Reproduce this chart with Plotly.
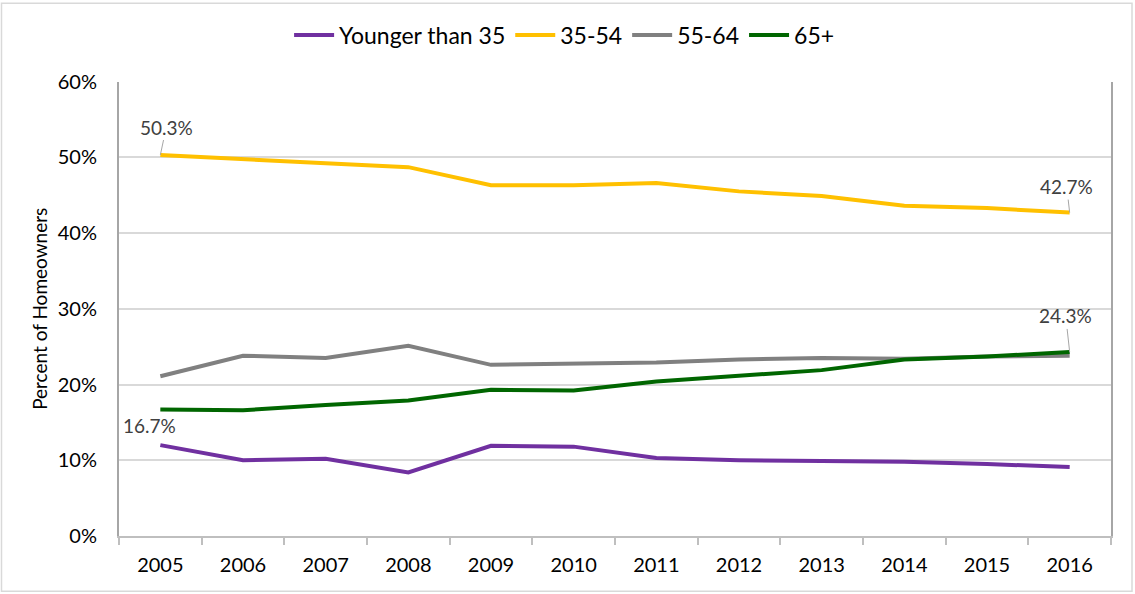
import plotly.graph_objects as go

years = ["2005", "2006", "2007", "2008", "2009", "2010", "2011", "2012", "2013", "2014", "2015", "2016"]
younger_35 = [12.0, 10.0, 10.2, 8.4, 11.9, 11.8, 10.3, 10.0, 9.9, 9.8, 9.5, 9.1]
age_35_54 = [50.3, 49.7, 49.2, 48.7, 46.3, 46.3, 46.6, 45.5, 44.9, 43.6, 43.3, 42.7]
age_55_64 = [21.1, 23.8, 23.5, 25.1, 22.6, 22.8, 22.9, 23.3, 23.5, 23.4, 23.7, 23.8]
age_65_plus = [16.7, 16.6, 17.3, 17.9, 19.3, 19.2, 20.4, 21.1, 21.9, 23.3, 23.7, 24.3]

series = [
    ("Younger than 35", younger_35, "#7030A0"),
    ("35-54", age_35_54, "#FFC000"),
    ("55-64", age_55_64, "#808080"),
    ("65+", age_65_plus, "#006600"),
]

FONT = "Lato"
fig = go.Figure()
for name, vals, color in series:
    fig.add_trace(go.Scatter(
        x=years, y=vals, name=name, mode="lines",
        line=dict(color=color, width=4),
    ))

first, last = 0, len(years) - 1
lab_font = dict(family=FONT, size=19, color="#404040")
ann_style = dict(font=lab_font, arrowhead=0, arrowwidth=1, arrowcolor="#A6A6A6",
                 showarrow=True, axref="pixel", ayref="pixel")
annotations = [
    dict(x=first, y=age_35_54[first], text=f"{age_35_54[first]:.1f}%", ax=6, ay=-28, **ann_style),
    dict(x=last, y=age_35_54[last], text=f"{age_35_54[last]:.1f}%", ax=-3, ay=-26, **ann_style),
    dict(x=last, y=age_65_plus[last], text=f"{age_65_plus[last]:.1f}%", ax=-4, ay=-36, **ann_style),
    dict(x=first, y=age_65_plus[first], text=f"{age_65_plus[first]:.1f}%", showarrow=False,
         xshift=-11, yshift=-16, font=lab_font),
]

L, R, T, B = 119, 24, 80, 58
PW = 1135 - L - R
PH = 594 - T - B

fig.update_layout(
    width=1135, height=594,
    margin=dict(l=L, r=R, t=T, b=B),
    paper_bgcolor="white", plot_bgcolor="white",
    font=dict(family=FONT, size=20, color="#000000"),
    showlegend=True,
    legend=dict(orientation="h", xref="container", yref="container",
                x=0.497, y=0.941, xanchor="center", yanchor="middle",
                font=dict(family=FONT, size=23, color="#000000"),
                itemwidth=40, tracegroupgap=0),
    annotations=annotations,
    xaxis=dict(
        type="category", showgrid=False, tickson="boundaries",
        ticks="outside", ticklen=7, tickcolor="#BFBFBF", tickwidth=1.5,
        showline=True, linecolor="#BFBFBF", linewidth=1.5, mirror=False,
        tickfont=dict(family=FONT, size=20, color="#000000"),
        ticklabelstandoff=10,
        range=[-0.5, 11.5], fixedrange=True,
    ),
    yaxis=dict(
        range=[0, 60], dtick=10, ticksuffix="%",
        showgrid=True, gridcolor="#D9D9D9", gridwidth=1.5,
        showline=True, linecolor="#A6A6A6", linewidth=2, mirror=True,
        zeroline=False,
        tickfont=dict(family=FONT, size=20, color="#000000"),
        ticklabelstandoff=16,
        title=dict(text="Percent of Homeowners", font=dict(family=FONT, size=19, color="#000000"), standoff=5),
    ),
    shapes=[dict(type="rect", xref="paper", yref="paper",
                 x0=-(L - 1.5) / PW, x1=1 + (R - 3) / PW,
                 y0=-(B - 2.5) / PH, y1=1 + (T - 1.5) / PH,
                 line=dict(color="#D9D9D9", width=1.5), layer="below")],
)

fig.write_html("out.html", config={"displayModeBar": False},
               post_script="document.body.style.margin='0';document.body.style.overflow='hidden';")
